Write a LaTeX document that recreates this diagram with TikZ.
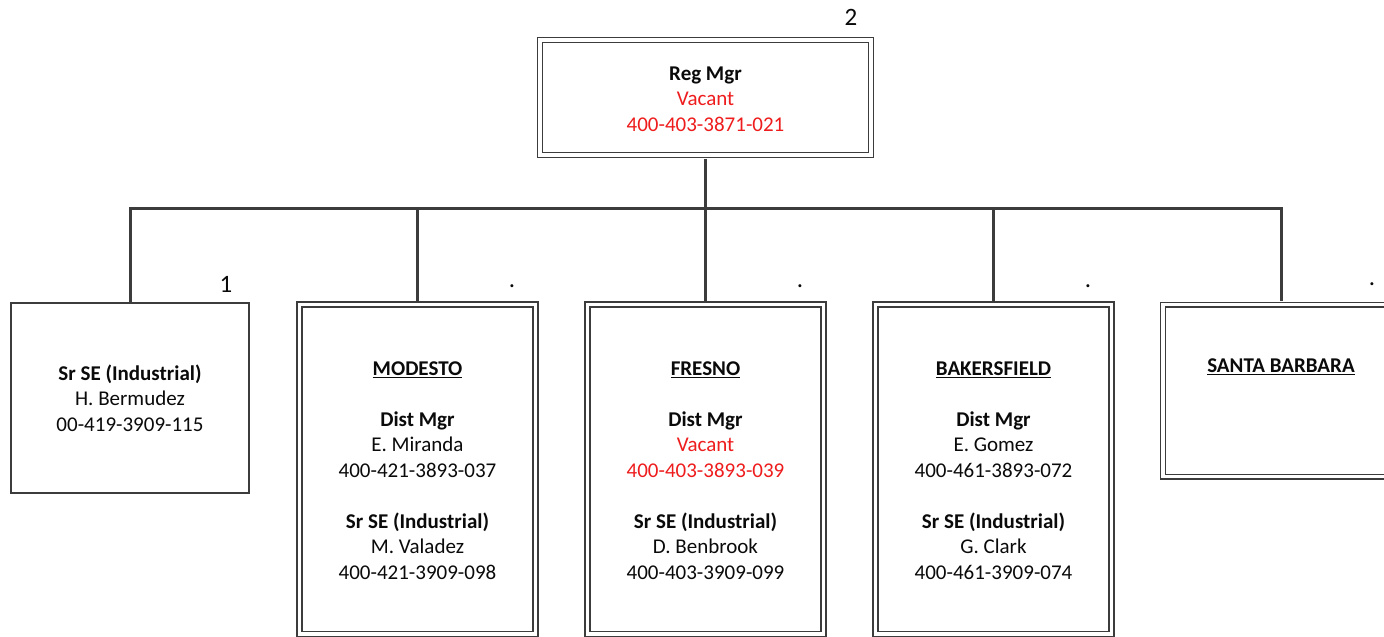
\documentclass[tikz,border=0pt]{standalone}
\usepackage{fontspec}
\setmainfont{Carlito}
\definecolor{linegray}{HTML}{3C3C3C}
\definecolor{vacred}{HTML}{EE1C1C}
\definecolor{txtblack}{HTML}{0A0A0A}
\begin{document}
\begin{tikzpicture}[x=1pt,y=-1pt,
  dbox/.style={draw=linegray, double=white, double distance=3.6pt, line width=1.3pt, inner sep=0pt},
  sbox/.style={draw=linegray, line width=1.5pt, inner sep=0pt},
  conn/.style={draw=linegray, line width=3pt},
  txt/.style={align=center, inner sep=0pt, text=txtblack, font=\fontsize{21}{25.5}\selectfont},
  lab/.style={inner sep=0pt, text=txtblack, font=\fontsize{25}{30}\selectfont}]
\useasboundingbox (0,0) rectangle (1384,637);
\fill[white] (0,0) rectangle (1384,637);
% boxes
\node[dbox, minimum width=331pt, minimum height=115pt] (reg) at (705.5,97.5) {};
\node[sbox, minimum width=238pt, minimum height=190pt] (left) at (130,398) {};
\node[dbox, minimum width=236pt, minimum height=329.5pt] (mod) at (417.5,469.3) {};
\node[dbox, minimum width=236pt, minimum height=329.5pt] (fre) at (705.5,469.3) {};
\node[dbox, minimum width=236pt, minimum height=329.5pt] (bak) at (993.5,469.3) {};
\node[dbox, minimum width=236pt, minimum height=172pt] (sb) at (1281,390.6) {};
% bus
\coordinate (bus) at (705.5,208);
\coordinate (busl) at (left.north |- bus);
\coordinate (busr) at (sb.north |- bus);
\draw[conn, line cap=rect] (busl) -- (busr);
\draw[conn, shorten <=3.2pt] (reg.south) -- (bus);
\draw[conn, shorten >=0.75pt] (busl) -- (left.north);
\draw[conn, shorten >=3.2pt] (busr) -- (sb.north);
\draw[conn, shorten >=3.2pt] (mod.north |- bus) -- (mod.north);
\draw[conn, shorten >=3.2pt] (fre.north |- bus) -- (fre.north);
\draw[conn, shorten >=3.2pt] (bak.north |- bus) -- (bak.north);
% texts
\node[txt] (regtxt) at (705.5,99) {\textbf{Reg Mgr}\\\textcolor{vacred}{Vacant}\\\textcolor{vacred}{400-403-3871-021}};
\node[txt] (lefttxt) at (130,398) {\textbf{Sr SE (Industrial)}\\H. Bermudez\\00-419-3909-115};
\node[txt] (modtxt) at (417.5,470.5) {\textbf{\underline{MODESTO}}\\[25.5pt]\textbf{Dist Mgr}\\E. Miranda\\400-421-3893-037\\[25.5pt]\textbf{Sr SE (Industrial)}\\M. Valadez\\400-421-3909-098};
\node[txt] (fretxt) at (705.5,470.5) {\textbf{\underline{FRESNO}}\\[25.5pt]\textbf{Dist Mgr}\\\textcolor{vacred}{Vacant}\\\textcolor{vacred}{400-403-3893-039}\\[25.5pt]\textbf{Sr SE (Industrial)}\\D. Benbrook\\400-403-3909-099};
\node[txt] (baktxt) at (993.5,470.5) {\textbf{\underline{BAKERSFIELD}}\\[25.5pt]\textbf{Dist Mgr}\\E. Gomez\\400-461-3893-072\\[25.5pt]\textbf{Sr SE (Industrial)}\\G. Clark\\400-461-3909-074};
\node[txt] (sbtxt) at (1281,367) {\textbf{\underline{SANTA BARBARA}}};
% labels
\node[lab] (lab2) at (851,17) {2};
\node[lab] (lab1) at (226,284) {1};
\node[lab] (dot1) at (512,286) {.};
\node[lab] (dot2) at (800,286) {.};
\node[lab] (dot3) at (1088,286) {.};
\node[lab] (dot4) at (1372,284) {.};
\end{tikzpicture}
\end{document}
